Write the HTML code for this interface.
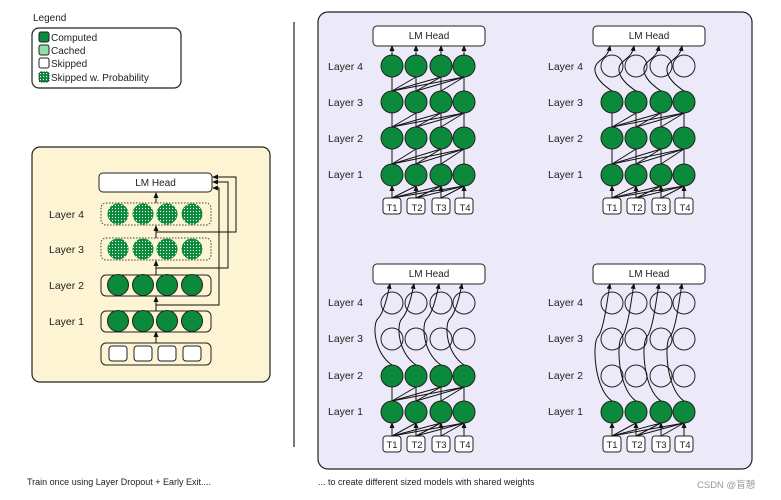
<!DOCTYPE html>
<html><head><meta charset="utf-8"><style>
html,body{margin:0;padding:0;background:#fff;}
svg{display:block;font-family:"Liberation Sans","Noto Sans CJK SC",sans-serif;}
</style></head><body>
<svg id="s" width="781" height="500" viewBox="0 0 781 500" xmlns="http://www.w3.org/2000/svg">
<defs>
<pattern id="dots" width="3" height="3" patternUnits="userSpaceOnUse">
<rect width="3" height="3" fill="#0a8a3a"/><circle cx="1.5" cy="1.5" r="0.6" fill="#fff"/>
</pattern>
<marker id="ah" markerWidth="6" markerHeight="6" refX="5" refY="3" orient="auto" markerUnits="userSpaceOnUse">
<path d="M0,0.5 L6,3 L0,5.5 z" fill="#111"/></marker>
</defs>
<!-- legend -->
<text x="33" y="21" font-size="10" fill="#222">Legend</text>
<rect x="32" y="28" width="149" height="60" rx="7" fill="#fff" stroke="#222" stroke-width="1.2"/>
<rect x="39" y="32" width="10" height="10" rx="2" fill="#0a8a3a" stroke="#222"/>
<rect x="39" y="45" width="10" height="10" rx="2" fill="#8fe0a8" stroke="#222"/>
<rect x="39" y="58" width="10" height="10" rx="2" fill="#fff" stroke="#222"/>
<rect x="39" y="72" width="10" height="10" rx="2" fill="url(#dots)" stroke="#222" stroke-dasharray="1.5 1"/>
<text x="51" y="41" font-size="10" fill="#222">Computed</text>
<text x="51" y="54" font-size="10" fill="#222">Cached</text>
<text x="51" y="67" font-size="10" fill="#222">Skipped</text>
<text x="51" y="81" font-size="10" fill="#222">Skipped w. Probability</text>
<!-- left panel -->
<rect x="32" y="147" width="238" height="235" rx="8" fill="#fcf4d2" stroke="#222" stroke-width="1.2"/>
<rect x="99" y="173" width="113" height="19" rx="4" fill="#fff" stroke="#222"/>
<text x="155.5" y="186" font-size="10" text-anchor="middle" fill="#222">LM Head</text>
<rect x="101" y="203" width="110" height="22" rx="5" fill="none" stroke="#444" stroke-dasharray="1.5 1.5"/>
<rect x="101" y="238" width="110" height="22" rx="5" fill="none" stroke="#444" stroke-dasharray="1.5 1.5"/>
<rect x="101" y="275" width="110" height="21" rx="5" fill="none" stroke="#222"/>
<rect x="101" y="311" width="110" height="21" rx="5" fill="none" stroke="#222"/>
<rect x="101" y="343" width="110" height="22" rx="5" fill="none" stroke="#222"/>
<text x="49" y="218" font-size="10.5" fill="#222">Layer 4</text>
<text x="49" y="253" font-size="10.5" fill="#222">Layer 3</text>
<text x="49" y="289" font-size="10.5" fill="#222">Layer 2</text>
<text x="49" y="325" font-size="10.5" fill="#222">Layer 1</text>
<g font-size="9.5" fill="#222" text-anchor="middle">
<text x="119" y="357">T1</text><text x="144" y="357">T2</text><text x="169" y="357">T3</text><text x="193" y="357">T4</text>
</g>
<g id="lp"></g>
<!-- divider -->
<line x1="294" y1="22" x2="294" y2="447" stroke="#222" stroke-width="1.2"/>
<!-- right panel -->
<rect x="318" y="12" width="434" height="457" rx="10" fill="#eceaf9" stroke="#222" stroke-width="1.2"/>
<g id="rp"></g>
<g font-size="10.5" fill="#222">
<text x="328" y="70">Layer 4</text><text x="328" y="106">Layer 3</text><text x="328" y="142">Layer 2</text><text x="328" y="178">Layer 1</text>
<text x="548" y="70">Layer 4</text><text x="548" y="106">Layer 3</text><text x="548" y="142">Layer 2</text><text x="548" y="178">Layer 1</text>
<text x="328" y="306">Layer 4</text><text x="328" y="342">Layer 3</text><text x="328" y="379">Layer 2</text><text x="328" y="415">Layer 1</text>
<text x="548" y="306">Layer 4</text><text x="548" y="342">Layer 3</text><text x="548" y="379">Layer 2</text><text x="548" y="415">Layer 1</text>
</g>
<g font-size="10" fill="#222" text-anchor="middle">
<text x="429" y="39">LM Head</text><text x="649" y="39">LM Head</text>
<text x="429" y="277">LM Head</text><text x="649" y="277">LM Head</text>
</g>
<g font-size="9.5" fill="#222" text-anchor="middle">
<text x="392" y="211">T1</text><text x="417" y="211">T2</text><text x="441" y="211">T3</text><text x="465" y="211">T4</text>
<text x="612" y="211">T1</text><text x="637" y="211">T2</text><text x="661" y="211">T3</text><text x="685" y="211">T4</text>
<text x="392" y="448">T1</text><text x="417" y="448">T2</text><text x="441" y="448">T3</text><text x="465" y="448">T4</text>
<text x="612" y="448">T1</text><text x="637" y="448">T2</text><text x="661" y="448">T3</text><text x="685" y="448">T4</text>
</g>
<text x="27" y="485" font-size="9" fill="#222">Train once using Layer Dropout + Early Exit....</text>
<text x="318" y="485" font-size="9" fill="#222">... to create different sized models with shared weights</text>
<text x="697" y="488" font-size="9.5" fill="#999">CSDN @盲憩</text>
</svg>
<script>
var NS="http://www.w3.org/2000/svg";
function el(p,t,a){var e=document.createElementNS(NS,t);for(var k in a)e.setAttribute(k,a[k]);p.appendChild(e);return e;}
var lp=document.getElementById('lp'),rp=document.getElementById('rp');
// left panel
var lx=[118,143,167,192];
[[214,'url(#dots)'],[249,'url(#dots)'],[285,'#0a8a3a'],[321,'#0a8a3a']].forEach(function(r){
 lx.forEach(function(x){el(lp,'circle',{cx:x,cy:r[0],r:10.5,fill:r[1],stroke:r[1]=='url(#dots)'?'none':'#222'});});});
lx.forEach(function(x,i){el(lp,'rect',{x:x-9,y:346,width:18,height:15,rx:3,fill:'#fff',stroke:'#222'});});
[[343,332],[311,297],[275,261],[238,226],[203,193]].forEach(function(s){
 el(lp,'line',{x1:156,y1:s[0],x2:156,y2:s[1],stroke:'#111','marker-end':'url(#ah)'});});
el(lp,'polyline',{points:'156,305 219,305 219,188 213,188',fill:'none',stroke:'#111','marker-end':'url(#ah)'});
el(lp,'polyline',{points:'156,268 228,268 228,182 213,182',fill:'none',stroke:'#111','marker-end':'url(#ah)'});
el(lp,'polyline',{points:'156,232 236,232 236,177 213,177',fill:'none',stroke:'#111','marker-end':'url(#ah)'});
// right panel sub-diagrams
function sub(ox,oy,rows,nComp){
 var xs=[392,416,441,464].map(function(x){return x+ox;});
 var hy=26+oy;
 el(rp,'rect',{x:373+ox,y:hy,width:112,height:20,rx:4,fill:'#fff',stroke:'#222'});
 var ty=198+oy;
 xs.forEach(function(x){el(rp,'rect',{x:x-9,y:ty,width:18,height:16,rx:3,fill:'#fff',stroke:'#222'});});
 var R=11;
 // token -> layer1
 for(var j=0;j<4;j++)for(var i=j;i<4;i++)
  el(rp,'line',{x1:xs[j],y1:ty,x2:xs[i],y2:rows[3]+R,stroke:'#111','stroke-width':1,'marker-end':i==j?'url(#ah)':''});
 // between computed layers
 for(var L=3;L>3-nComp+1;L--){
  var ylo=rows[L]-R,yhi=rows[L-1]+R;
  for(var j=0;j<4;j++)for(var i=j;i<4;i++)
   el(rp,'line',{x1:xs[j],y1:ylo,x2:xs[i],y2:yhi,stroke:'#111'});
 }
 for(var L=0;L<4;L++){
  var comp=L>=4-nComp;
  xs.forEach(function(x){el(rp,'circle',{cx:x,cy:rows[L],r:R,fill:comp?'#0a8a3a':'none',stroke:'#222'});});
 }
 var top=rows[4-nComp]-R;
 xs.forEach(function(x){
  if(nComp==4) el(rp,'line',{x1:x,y1:top,x2:x,y2:hy+20,stroke:'#111','marker-end':'url(#ah)'});
  else{
   var mid=(top+hy+20)/2;
   el(rp,'path',{d:'M'+x+','+top+' C'+(x-18)+','+(top-12)+' '+(x-20)+','+(mid)+' '+(x-14)+','+(mid-6)+' S'+(x-4)+','+(hy+30)+' '+(x-2)+','+(hy+20),fill:'none',stroke:'#111','marker-end':'url(#ah)'});
  }
 });
}
sub(0,0,[66,102,138,175],4);
sub(220,0,[66,102,138,175],3);
sub(0,238,[303,339,376,412],2);
sub(220,238,[303,339,376,412],1);
</script>
</body></html>
